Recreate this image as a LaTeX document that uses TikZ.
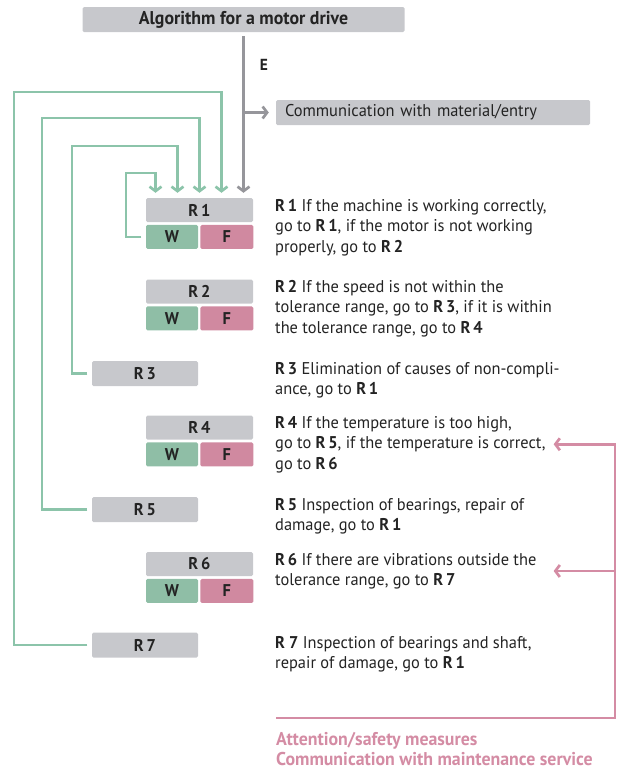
\documentclass[tikz,border=0pt]{standalone}
\usepackage{fontspec}
\setmainfont{PT Sans}[FakeStretch=0.965]
\usetikzlibrary{positioning,arrows.meta}
\definecolor{boxgray}{RGB}{199,200,204}
\definecolor{wgreen}{RGB}{143,190,166}
\definecolor{fpink}{RGB}{208,137,160}
\definecolor{loopgreen}{RGB}{140,196,170}
\definecolor{linegray}{RGB}{150,150,155}
\definecolor{linepink}{RGB}{212,140,164}
\definecolor{ink}{RGB}{35,35,35}

\begin{document}
\begin{tikzpicture}[x=1pt,y=-1pt,text=ink,
  font=\fontsize{17pt}{20.5pt}\selectfont,
  head/.style={rectangle,fill=boxgray,rounded corners=1.5pt,inner sep=0pt,minimum width=107pt,minimum height=24pt,font=\fontsize{17pt}{20.5pt}\selectfont\bfseries},
  wbox/.style={rectangle,fill=wgreen,rounded corners=1.5pt,inner sep=0pt,minimum width=52pt,minimum height=24pt,font=\fontsize{17pt}{20.5pt}\selectfont\bfseries},
  fbox/.style={wbox,fill=fpink,minimum width=53pt},
  single/.style={head,minimum width=106pt,minimum height=25pt},
  rtext/.style={anchor=base west,align=left,inner sep=0pt},
  gloop/.style={draw=loopgreen,line width=2.7pt,-{Straight Barb[length=4.5pt,width=12pt]},shorten <=4.5pt,shorten >=5pt},
  gline/.style={draw=linegray,line width=2.7pt,-{Straight Barb[length=4.5pt,width=12pt]}},
  pline/.style={draw=linepink,line width=2.7pt,-{Straight Barb[length=4.5pt,width=12pt]},shorten >=8pt}]
\useasboundingbox (0,0) rectangle (619,769);

\node [head,minimum width=322pt,minimum height=25pt,font=\fontsize{18.5pt}{20.5pt}\selectfont\bfseries] (title) at (243.5,19.5) {Algorithm for a motor drive};
\node [font=\fontsize{16pt}{20.5pt}\selectfont\bfseries] (e) at (264,65) {E};
\node [rectangle,fill=boxgray,rounded corners=1.5pt,minimum height=25pt,text width=296pt,inner xsep=9pt,inner ysep=0pt,align=left] (comm) at (433,112.5) {Communication with material/entry};

% rule blocks
\node [head] (h1) at (199.5,210) {R\,1};
\node [wbox,below=2.5pt,at=(h1.south west),anchor=north west] (w1) {W};
\node [fbox,right=2pt,at=(w1.east)] (f1) {F};
\node [head] (h2) at (199.5,291.5) {R\,2};
\node [wbox,below=2.5pt,at=(h2.south west),anchor=north west] (w2) {W};
\node [fbox,right=2pt,at=(w2.east)] (f2) {F};
\node [single] (r3) at (145,373.5) {R\,3};
\node [head] (h4) at (199.5,427.5) {R\,4};
\node [wbox,below=2.5pt,at=(h4.south west),anchor=north west] (w4) {W};
\node [fbox,right=2pt,at=(w4.east)] (f4) {F};
\node [single] (r5) at (145,509.5) {R\,5};
\node [head] (h6) at (199.5,564) {R\,6};
\node [wbox,below=2.5pt,at=(h6.south west),anchor=north west] (w6) {W};
\node [fbox,right=2pt,at=(w6.east)] (f6) {F};
\node [single] (r7) at (145,645) {R\,7};

% descriptions (base = last line)
\node [rtext] (t1) at (275,252) {\textbf{R\,1} If the machine is working correctly,\\go to \textbf{R\,1}, if the motor is not working\\properly, go to \textbf{R\,2}};
\node [rtext] (t2) at (275,333) {\textbf{R\,2} If the speed is not within the\\tolerance range, go to \textbf{R\,3}, if it is within\\the tolerance range, go to \textbf{R\,4}};
\node [rtext] (t3) at (275,394.5) {\textbf{R\,3} Elimination of causes of non-compli-\\ance, go to \textbf{R\,1}};
\node [rtext] (t4) at (275,469) {\textbf{R\,4} If the temperature is too high,\\go to \textbf{R\,5}, if the temperature is correct,\\go to \textbf{R\,6}};
\node [rtext] (t5) at (275,530.5) {\textbf{R\,5} Inspection of bearings, repair of\\damage, go to \textbf{R\,1}};
\node [rtext] (t6) at (275,585.5) {\textbf{R\,6} If there are vibrations outside the\\tolerance range, go to \textbf{R\,7}};
\node [rtext] (t7) at (275,668.5) {\textbf{R 7} Inspection of bearings and shaft,\\repair of damage, go to \textbf{R\,1}};
\node [rtext,text=linepink,font=\fontsize{18.5pt}{20pt}\selectfont\bfseries] (att) at (276,765) {Attention/safety measures\\Communication with maintenance service};

% connectors
\draw [gline,shorten <=4pt,shorten >=5pt] (title.south) -- (title.south |- h1.north);
\draw [gline,shorten >=7pt] (title.south |- comm.west) -- (comm.west);
\draw [gloop] (w1.west) -| (126,173) -| ([xshift=-44pt]h1.north);
\draw [gloop] (r3.west) -| (72,146) -| ([xshift=-22pt]h1.north);
\draw [gloop] (r5.west) -| (42,118) -| (h1.north);
\draw [gloop] (r7.west) -| (14,92) -| ([xshift=22pt]h1.north);

\coordinate (pstart) at (276,718);
\coordinate (corner) at (615,718);
\draw [pline] (pstart) -- (corner) |- (t4.east);
\draw [pline] (corner |- t6.east) -- (t6.east -| t4.east);
\end{tikzpicture}
\end{document}
